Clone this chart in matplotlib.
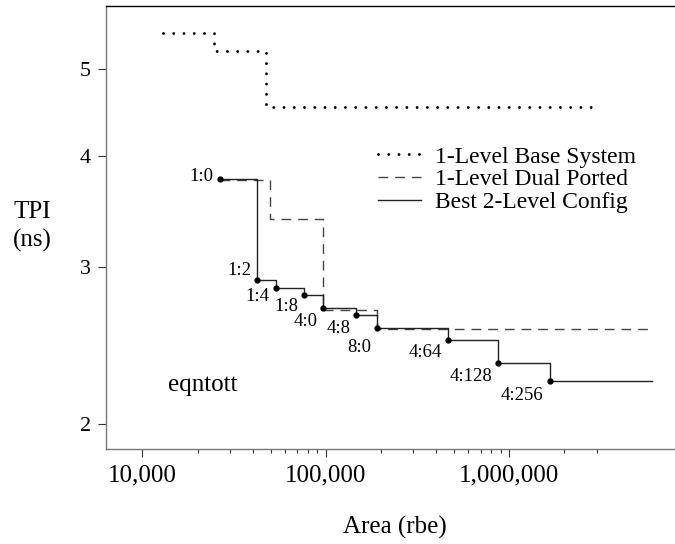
import matplotlib
matplotlib.use("Agg")
import matplotlib.pyplot as plt
from matplotlib.ticker import FixedLocator, NullLocator, FuncFormatter

plt.rcParams['font.family'] = ['Liberation Serif', 'DejaVu Serif']

# 1-Level Base System (dotted)
base_area = [12900, 24600, 47400, 100000, 200000, 400000, 800000, 1600000, 3040000]
base_tpi = [5.49, 5.24, 4.53, 4.53, 4.53, 4.53, 4.53, 4.53, 4.53]

# 1-Level Dual Ported (dashed)
dual_area = [26500, 49400, 97100, 190500, 6000000]
dual_tpi = [3.76, 3.40, 2.683, 2.557, 2.557]

# Best 2-Level Config (solid), labelled points
best_area = [26500, 42200, 53400, 76400, 97100, 146600, 190500, 466000, 873000, 1660000]
best_tpi = [3.761, 2.903, 2.844, 2.790, 2.698, 2.650, 2.562, 2.486, 2.344, 2.237]
best_labels = ['1:0', '1:2', '1:4', '1:8', '4:0', '4:8', '8:0', '4:64', '4:128', '4:256']
best_end_area = 6000000

# label offsets in pixels (right edge of text, centre of text)
label_off = [(-7, 3), (-6, 9), (-6, -9), (-6, -11), (-6, -13), (-6, -13),
             (-6, -19), (-6, -13), (-6, -14), (-6, -15)]

fig = plt.figure(figsize=(6.75, 5.44), dpi=100)
ax = fig.add_axes([106/675, 1-449/544, 1-106/675+0.02, (449-6)/544])

ax.set_xscale('log')
ax.set_yscale('log')
ax.set_xlim(6340, 9.5e6)
ax.set_ylim(1.875, 5.886)

ax.plot(base_area, base_tpi, drawstyle='steps-post', color='black',
        linestyle=(0, (0.01, 3.5)), linewidth=2.1, dash_capstyle='round',
        label='1-Level Base System')
ax.plot(dual_area, dual_tpi, drawstyle='steps-post', color='#444444',
        linestyle=(0, (7, 5)), linewidth=1.0, label='1-Level Dual Ported')
ax.plot(best_area + [best_end_area], best_tpi + [best_tpi[-1]], drawstyle='steps-post',
        color='#222222', linewidth=1.0, label='Best 2-Level Config')
ax.plot(best_area, best_tpi, 'o', color='black', markersize=3.5)

for a, t, lab, off in zip(best_area, best_tpi, best_labels, label_off):
    ax.annotate(lab, (a, t), xytext=off, textcoords='offset pixels',
                ha='right', va='center', fontsize=13.5)

ax.xaxis.set_major_locator(FixedLocator([1e4, 1e5, 1e6]))
ax.xaxis.set_minor_locator(FixedLocator([k*1e4 for k in range(2, 10)] +
                                        [k*1e5 for k in range(2, 10)] + [2e6, 3e6]))
ax.xaxis.set_major_formatter(FuncFormatter(lambda v, p: '{:,.0f}'.format(v)))
ax.xaxis.set_minor_formatter(FuncFormatter(lambda v, p: ''))
ax.yaxis.set_major_locator(FixedLocator([2, 3, 4, 5]))
ax.yaxis.set_minor_locator(NullLocator())
ax.yaxis.set_major_formatter(FuncFormatter(lambda v, p: '%d' % v))

ax.tick_params(axis='x', which='major', length=6, width=0.8, labelsize=18, pad=5, color='#333333')
ax.tick_params(axis='x', which='minor', length=3, width=0.8, color='#333333')
ax.tick_params(axis='y', which='major', length=6, width=0.8, labelsize=16, pad=5, color='#333333')

ax.spines['right'].set_visible(False)
ax.spines['left'].set_color('#777777')
ax.spines['bottom'].set_color('#777777')
ax.spines['top'].set_color('black')
for s in ax.spines.values():
    s.set_linewidth(1.0)

fig.text(32/675, 1-212/544, 'TPI', ha='center', va='center', fontsize=18)
fig.text(32/675, 1-240/544, '(ns)', ha='center', va='center', fontsize=18)
fig.text(395/675, 1-527/544, 'Area (rbe)', ha='center', va='center', fontsize=18)
fig.text(168/675, 1-385/544, 'eqntott', ha='left', va='center', fontsize=18)

ax.legend(loc='upper left', bbox_to_anchor=(378/675, 1-146/544), bbox_transform=fig.transFigure,
          frameon=False, fontsize=17, handlelength=1.8, handletextpad=0.6,
          labelspacing=0.05, borderpad=0, borderaxespad=0)

fig.savefig('out.png', dpi=100)
